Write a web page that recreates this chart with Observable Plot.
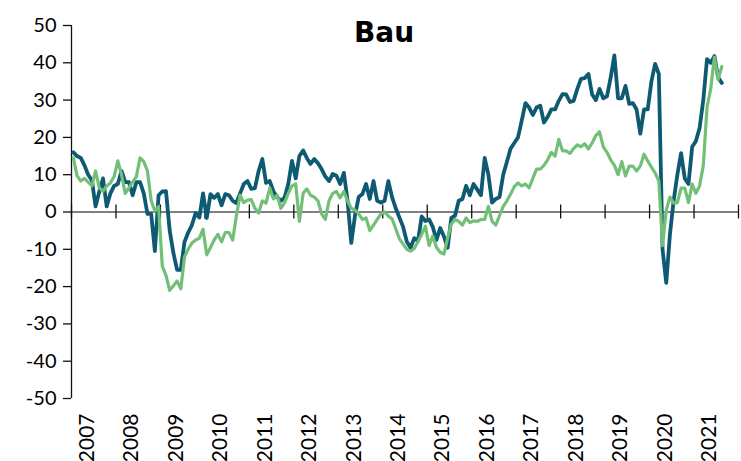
<!DOCTYPE html>
<html><head><meta charset="utf-8">
<script src="https://cdn.jsdelivr.net/npm/d3@7"></script>
<script src="https://cdn.jsdelivr.net/npm/@observablehq/plot@0.6"></script>
<style>html,body{margin:0;padding:0;background:#fff} svg{display:block}</style>
</head><body><div id="chart"></div>
<script>
const title = "Bau";
const startYear = 2007;
const yearLabels = ["2007","2008","2009","2010","2011","2012","2013","2014","2015","2016","2017","2018","2019","2020","2021"];
const yearBoundaries = [2007,2008,2009,2010,2011,2012,2013,2014,2015,2016,2017,2018,2019,2020,2021,2022];
const yTicks = [-50,-40,-30,-20,-10,0,10,20,30,40,50];

// dark series, monthly from Jan 2007
const seriesDark = [
  16, 15, 14.5, 12.5, 10, 8.5, 1.5, 5.5, 9, 1.5, 5, 7,
  7.5, 11, 8, 8, 4.5, 8, 8, 5, -0.5, -0.5, -10.5, 4.5,
  5.5, 5.6, -5, -11, -15.5, -15.5, -8, -5.5, -3.5, -0.3, -1.5, 5,
  -1.6, 4.8, 3.8, 4.8, 1.8, 4.8, 4.5, 3, 2.4, 5, 7.5, 8.3,
  6.2, 6.4, 11, 14.2, 7.8, 8.3, 5.5, 4, 3, 3.8, 7.5, 13.7,
  9, 15, 16.5, 14.5, 12.9, 14.2, 13.1, 11.5, 9.5, 8.3, 10.2, 9.7,
  7.5, 10.5, 3, -8.3, -1, 4, 4.8, 7.5, 3.5, 8.3, 3, 2.5,
  3, 8.3, 4, 1, -1.5, -4, -8, -9.6, -7, -7.8, -1.2, -2.4,
  -2, -4, -7.5, -4.3, -6.5, -9.6, -1.6, -1, 3, 3.5, 7, 4.5,
  7.5, 6, 4.5, 14.5, 10, 2.5, 3.5, 4, 10, 13.5, 17, 18.5,
  20, 24.5, 29.2, 28, 26, 28, 28.5, 24, 25.5, 27.5, 27.5, 29.8,
  31.6, 31.5, 29.5, 29.8, 33, 35.7, 35.9, 37, 31.5, 30, 33, 30.5,
  31, 36, 42, 30.5, 30.5, 33.8, 29, 29.2, 27.5, 21, 27.5, 27.5,
  35, 39.7, 37, -10, -19, -6, 3, 10, 15.8, 9, 7.5, 17.5,
  19, 22.5, 30, 41, 40, 41.8, 36, 34.6
];

// light green series, monthly from Jan 2007
const seriesGreen = [
  14.5, 9.7, 8.3, 9, 8, 7, 11, 6.5, 5.5, 7, 7.8, 9.5,
  13.7, 10, 5, 6.5, 8, 9.5, 14.5, 13.5, 11, 3, 0.3, 1.5,
  -14.5, -17, -21, -19.8, -18.5, -20.6, -12, -10, -8.3, -7.5, -7, -4.6,
  -11.5, -9.5, -7.5, -6, -8, -5.5, -5.5, -7.5, -1, 4.5, 2.5, 3.2,
  3.3, 1, -0.3, 3, 2.4, 6.4, 3.5, 4.5, 1, 2.5, 5, 7,
  7.5, -2.5, 5, 6.2, 4.5, 4, 3, -0.5, -2, 3, 5, 5.5,
  3.8, 5.5, 3, 1, 0.5, -0.5, -2, -1.6, -5, -3.5, -2, -0.5,
  0, -1.1, -1.8, -4.5, -7.2, -8.6, -10, -10.5, -9.8, -8, -6, -3.8,
  -9, -6.4, -9.5, -10.8, -11.3, -7, -3.2, -2, -2.5, -3.5, -1.6, -2.8,
  -2.4, -2.5, -2, -2, 1.5, -2.5, -3.5, -1, 1.5, 3, 4.8, 6.8,
  7.8, 7, 7.5, 6.5, 9, 11.5, 11.5, 12.5, 14, 16, 15, 19.5,
  16.4, 16.4, 15.7, 17, 18, 17.5, 18.3, 16.9, 18.5, 20.5, 21.5, 17.5,
  16, 14, 12.5, 10, 13.5, 9.7, 12.3, 12.3, 11, 12.3, 15.5, 13.7,
  12, 10.5, 8.3, -9, 0.5, 4, 2.4, 2.5, 6.4, 6.4, 2.5, 7.5,
  5, 7, 12.5, 28, 33, 41.5, 35.5, 39
];

const toRows = arr => arr.map((v, i) => ({date: startYear + (i + 0.5) / 12, value: v}));

const chart = Plot.plot({
  width: 741,
  height: 461,
  marginLeft: 71,
  marginRight: 3,
  marginTop: 25,
  marginBottom: 63,
  style: {fontFamily: "Lato, sans-serif", fontSize: "20px", background: "white", color: "#000"},
  x: {domain: [2007, 2022], axis: null},
  y: {domain: [-50, 50], axis: null},
  marks: [
    Plot.ruleY([0], {stroke: "#808080", strokeWidth: 2}),
    Plot.ruleX(yearBoundaries, {x: d => d, y1: 0, y2: 0, insetTop: -7, insetBottom: -7, stroke: "#111", strokeWidth: 1.3}),
    Plot.ruleX([yearBoundaries[0]], {stroke: "#111", strokeWidth: 1.3}),
    Plot.ruleY(yTicks, {y: d => d, x1: yearBoundaries[0], x2: yearBoundaries[0], insetLeft: -8, stroke: "#111", strokeWidth: 1.3}),
    Plot.text(yTicks, {y: d => d, text: d => String(d), frameAnchor: "left", dx: -15, textAnchor: "end", fontSize: 20, fill: "#000"}),
    Plot.line(toRows(seriesDark), {x: "date", y: "value", stroke: "#0f5a73", strokeWidth: 3.8, strokeLinejoin: "round"}),
    Plot.line(toRows(seriesGreen), {x: "date", y: "value", stroke: "#72c077", strokeWidth: 3.2, strokeLinejoin: "round"}),
    Plot.text(yearLabels, {x: d => +d + 0.5, frameAnchor: "bottom", dy: 15, rotate: -90, textAnchor: "end", fontSize: 21, fill: "#000"}),
    Plot.text([title], {frameAnchor: "top", dx: -21, dy: -3, fontSize: 28, fontWeight: "bold", fontFamily: "DejaVu Sans", fill: "#000"})
  ]
});
document.getElementById("chart").appendChild(chart);
</script>
</body></html>
